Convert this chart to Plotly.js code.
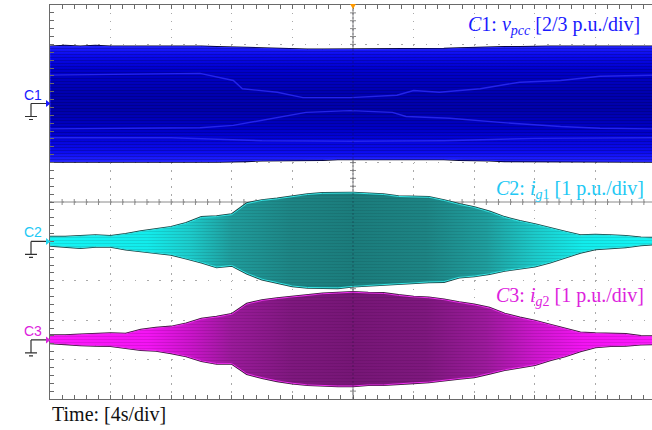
<!DOCTYPE html>
<html>
<head>
<meta charset="utf-8">
<script src="https://cdn.plot.ly/plotly-3.0.1.min.js"></script>
<style>
  html, body { margin: 0; padding: 0; background: #ffffff; overflow: hidden; }
  #scope { width: 660px; height: 430px; }
</style>
</head>
<body>
<div id="scope"></div>
<script>
// Sample instants of the envelope readings, seconds (4 s/div, 10 div)
const timeS = [0,1,2,3,4,5,6,7,8,9,10,11,12,13,14,15,16,17,18,19,20,
               21,22,23,24,25,26,27,28,29,30,31,32,33,34,35,36,37,38,39,40];

// C1: PCC voltage envelope, p.u.
const vpccUpper = [0.96,0.97,0.96,0.97,0.96,0.96,0.97,0.96,0.96,0.96,
                   0.96,0.95,0.95,0.94,0.93,0.92,0.92,0.91,0.91,0.91,
                   0.91,0.91,0.91,0.91,0.91,0.92,0.92,0.93,0.94,0.94,
                   0.95,0.95,0.96,0.96,0.96,0.96,0.96,0.95,0.96,0.96,0.96];
const vpccLower = [-0.98,-0.98,-0.98,-0.97,-0.98,-0.98,-0.98,-0.98,-0.98,-0.98,
                   -0.98,-0.98,-0.98,-0.97,-0.96,-0.96,-0.96,-0.95,-0.95,-0.94,
                   -0.93,-0.93,-0.93,-0.93,-0.93,-0.94,-0.94,-0.95,-0.96,-0.96,
                   -0.97,-0.97,-0.98,-0.98,-0.98,-0.98,-0.98,-0.98,-0.98,-0.98,-0.98];

// Brighter inner traces visible inside the C1 band, p.u.
const vpccTraceATime = [0,5.3,9.9,12.1,12.7,15.0,16.7,19.8,22.9,24.0,25.7,28.4,31.0,33.7,36.3,40];
const vpccTraceA     = [0.48,0.49,0.51,0.39,0.25,0.19,0.10,0.10,0.14,0.22,0.19,0.25,0.36,0.39,0.46,0.48];
const vpccTraceBTime = [0,5.3,9.9,12.1,15.0,16.9,19.8,22.6,23.5,26.4,29.7,33.7,36.3,40];
const vpccTraceB     = [-0.43,-0.42,-0.41,-0.37,-0.24,-0.15,-0.12,-0.15,-0.22,-0.25,-0.32,-0.39,-0.42,-0.43];
const vpccTraceCTime = [0,8,14,20,26,32,40];
const vpccTraceC     = [-0.58,-0.58,-0.63,-0.64,-0.63,-0.59,-0.58];

// C2: grid current i_g1 envelope, p.u.
const ig1Upper = [0.11,0.11,0.13,0.15,0.13,0.18,0.25,0.30,0.36,0.46,
                  0.61,0.63,0.68,0.96,1.04,1.08,1.14,1.19,1.22,1.23,
                  1.23,1.21,1.19,1.14,1.13,1.12,1.04,0.94,0.86,0.75,
                  0.61,0.51,0.43,0.33,0.24,0.15,0.16,0.15,0.13,0.09,0.08];
const ig1Lower = [-0.10,-0.13,-0.16,-0.13,-0.13,-0.20,-0.25,-0.29,-0.33,-0.43,
                  -0.53,-0.65,-0.61,-0.81,-0.96,-1.04,-1.13,-1.17,-1.17,-1.18,
                  -1.14,-1.12,-1.10,-1.08,-1.05,-1.03,-1.02,-0.91,-0.88,-0.82,
                  -0.74,-0.69,-0.63,-0.53,-0.41,-0.28,-0.19,-0.16,-0.14,-0.09,-0.06];

// C3: grid current i_g2 envelope, p.u.
const ig2Upper = [0.11,0.11,0.13,0.14,0.16,0.15,0.25,0.30,0.33,0.41,
                  0.53,0.58,0.65,0.91,1.00,1.05,1.09,1.14,1.17,1.19,
                  1.21,1.19,1.18,1.13,1.09,1.07,1.02,0.95,0.89,0.81,
                  0.66,0.56,0.48,0.38,0.28,0.18,0.16,0.15,0.14,0.09,0.08];
const ig2Lower = [-0.08,-0.10,-0.13,-0.14,-0.15,-0.20,-0.25,-0.27,-0.33,-0.41,
                  -0.53,-0.60,-0.60,-0.86,-0.96,-1.04,-1.10,-1.14,-1.15,-1.17,
                  -1.17,-1.14,-1.14,-1.12,-1.09,-1.07,-1.02,-0.98,-0.94,-0.85,
                  -0.76,-0.70,-0.63,-0.51,-0.41,-0.28,-0.18,-0.15,-0.14,-0.11,-0.10];

// Channel settings: volts/div in p.u. and ground-marker offset in divisions
const channels = [
  { name: 'C1', axis: 'y2', scale: 2/3, offset: 2.5,  labelColor: '#1a1aff', markerColor: '#1a1aff',
    upper: vpccUpper, lower: vpccLower,
    title: '<i>C</i>1: <i>v</i><sub><i>pcc</i></sub> [2/3 p.u./div]' },
  { name: 'C2', axis: 'y3', scale: 1,   offset: -1.0, labelColor: '#22c8f4', markerColor: '#20d8f0',
    upper: ig1Upper, lower: ig1Lower,
    title: '<i>C</i>2: <i>i</i><sub><i>g</i>1</sub> [1 p.u./div]' },
  { name: 'C3', axis: 'y4', scale: 1,   offset: -3.5, labelColor: '#dd22dd', markerColor: '#dd22dd',
    upper: ig2Upper, lower: ig2Lower,
    title: '<i>C</i>3: <i>i</i><sub><i>g</i>2</sub> [1 p.u./div]' }
];

const DIVS = 10, SEC_PER_DIV = 4, SUBDIV = 5;
const TRIGGER_S = 20;

function closedPath(upper, lower) {
  const xs = timeS.concat(timeS.slice().reverse(), [timeS[0]]);
  const ys = upper.concat(lower.slice().reverse(), [upper[0]]);
  return { xs, ys };
}

const gradients = {
  C1: { type: 'vertical', colorscale: [
        [0, '#2222ff'], [0.08, '#0c0cf0'], [0.25, '#0000cc'], [0.45, '#0000aa'],
        [0.6, '#0000b0'], [0.8, '#0000cc'], [0.92, '#0a0aec'], [1, '#2020ff']] },
  C2: { type: 'horizontal', colorscale: [
        [0, '#14f6f6'], [0.16, '#12ecec'], [0.23, '#1ccccc'], [0.3, '#1f9c9c'],
        [0.4, '#1d8484'], [0.5, '#1b7c7c'], [0.62, '#1d8484'], [0.72, '#1f9e9e'],
        [0.8, '#1ccaca'], [0.88, '#12ecec'], [1, '#14f6f6']] },
  C3: { type: 'horizontal', colorscale: [
        [0, '#ff18ff'], [0.16, '#f414f4'], [0.23, '#cc14cc'], [0.3, '#9a1a9a'],
        [0.4, '#7e187e'], [0.5, '#761676'], [0.62, '#7e187e'], [0.72, '#9c1a9c'],
        [0.8, '#cc16cc'], [0.88, '#f214f2'], [1, '#ff18ff']] }
};
const outlineColor = { C1: '#00002a', C2: '#1b4444', C3: '#3a163a' };
const rimColor = { C1: '#2a2aff', C2: '#34e6e6', C3: '#f030f0' };
const stripeColor = { C1: 'rgba(0,0,45,0.5)', C2: 'rgba(10,50,50,0.3)', C3: 'rgba(50,0,50,0.3)' };

const traces = [];
channels.forEach(ch => {
  const p = closedPath(ch.upper, ch.lower);
  // dark outline under the band
  traces.push({ type: 'scatter', mode: 'lines', x: p.xs, y: p.ys, yaxis: ch.axis,
    line: { color: outlineColor[ch.name], width: 2.6 }, hoverinfo: 'skip', showlegend: false });
  // intensity-graded body
  traces.push({ type: 'scatter', mode: 'lines', x: p.xs, y: p.ys, yaxis: ch.axis,
    fill: 'toself', fillgradient: gradients[ch.name],
    line: { color: rimColor[ch.name], width: 1 }, hoverinfo: 'skip', showlegend: false });
  // horizontal raster streaks
  traces.push({ type: 'scatter', mode: 'none', x: p.xs, y: p.ys, yaxis: ch.axis,
    fill: 'toself', fillcolor: 'rgba(0,0,0,0)',
    fillpattern: { shape: '-', size: 3, solidity: 0.3, fgcolor: stripeColor[ch.name],
                   bgcolor: 'rgba(0,0,0,0)', fillmode: 'overlay' },
    hoverinfo: 'skip', showlegend: false });
});
// inner traces of C1
[[vpccTraceATime, vpccTraceA], [vpccTraceBTime, vpccTraceB], [vpccTraceCTime, vpccTraceC]].forEach(([tx, ty]) => {
  traces.push({ type: 'scatter', mode: 'lines', x: tx, y: ty, yaxis: 'y2',
    line: { color: '#3030ff', width: 1.4 }, opacity: 0.75,
    hoverinfo: 'skip', showlegend: false });
});

const tMax = DIVS * SEC_PER_DIV;
const gridColor = '#a9a9a9';
const frameColor = '#6a6a6a';

function channelAxis(ch) {
  return {
    overlaying: 'y', visible: false, fixedrange: true,
    range: [(-DIVS / 2 - ch.offset) * ch.scale, (DIVS / 2 - ch.offset) * ch.scale]
  };
}

const shapes = [];
// graticule centre cross with subdivision ticks
shapes.push({ type: 'line', xref: 'paper', yref: 'y', x0: 0, x1: 1, y0: 0, y1: 0,
  line: { color: '#8a8a8a', width: 1 }, layer: 'between' });
shapes.push({ type: 'line', xref: 'x', yref: 'paper', x0: TRIGGER_S, x1: TRIGGER_S, y0: 0, y1: 1,
  line: { color: '#8a8a8a', width: 1 }, layer: 'between' });
shapes.push({ type: 'line', xref: 'x', yref: 'paper', x0: TRIGGER_S, x1: TRIGGER_S, y0: 0, y1: 1,
  line: { color: 'rgba(20,20,40,0.35)', width: 1, dash: '2px,2px' }, layer: 'above' });
const subX = SEC_PER_DIV / SUBDIV;
for (let k = 1; k < DIVS * SUBDIV; k++) {
  shapes.push({ type: 'line', xref: 'x', yref: 'y', xsizemode: 'scaled',
    ysizemode: 'pixel', yanchor: 0, x0: k * subX, x1: k * subX, y0: -3, y1: 3,
    line: { color: '#8a8a8a', width: 1 }, layer: 'between' });
  shapes.push({ type: 'line', xref: 'x', yref: 'y', xsizemode: 'pixel', xanchor: TRIGGER_S,
    x0: -3, x1: 3, y0: -DIVS / 2 + k / SUBDIV, y1: -DIVS / 2 + k / SUBDIV,
    line: { color: '#8a8a8a', width: 1 }, layer: 'between' });
}
// trigger position marker
shapes.push({ type: 'path', xref: 'x', yref: 'paper', xsizemode: 'pixel', ysizemode: 'pixel',
  xanchor: TRIGGER_S, yanchor: 1, path: 'M-3,1 L3,1 L0,-4 Z',
  fillcolor: '#ff9a00', line: { width: 0 }, layer: 'above' });

const annotations = [];
channels.forEach(ch => {
  // ground reference symbol and arrow at the channel's zero level
  shapes.push({ type: 'path', xref: 'paper', yref: ch.axis, xsizemode: 'pixel', ysizemode: 'pixel',
    xanchor: 0, yanchor: 0,
    path: 'M-19,0 H-3 M-19,0 V-13 M-25,-13 H-13 M-21,-16 H-17',
    line: { color: '#303030', width: 1.2 }, layer: 'above' });
  shapes.push({ type: 'path', xref: 'paper', yref: ch.axis, xsizemode: 'pixel', ysizemode: 'pixel',
    xanchor: 0, yanchor: 0, path: 'M-4,3.5 L0.5,0 L-4,-3.5 Z',
    fillcolor: ch.markerColor, line: { width: 0 }, layer: 'above' });
  annotations.push({ xref: 'paper', yref: ch.axis, x: 0, y: 0, xanchor: 'right', yanchor: 'middle',
    xshift: -6, yshift: 9, showarrow: false, text: ch.name,
    font: { family: 'Liberation Sans, Arial, sans-serif', size: 14, color: ch.labelColor } });
});

const titlePos = { C1: [0.977, 0.947], C2: [0.9835, 0.531], C3: [0.9835, 0.259] };
channels.forEach(ch => {
  annotations.push({ xref: 'paper', yref: 'paper', x: titlePos[ch.name][0], y: titlePos[ch.name][1],
    xanchor: 'right', yanchor: 'middle', showarrow: false, text: ch.title,
    font: { family: 'Liberation Serif, Times New Roman, serif', size: 20, color: ch.labelColor } });
});
annotations.push({ xref: 'paper', yref: 'paper', x: 0, y: 0, xanchor: 'left', yanchor: 'top',
  xshift: 0, yshift: -2, showarrow: false, text: 'Time: [' + SEC_PER_DIV + 's/div]',
  font: { family: 'Liberation Serif, Times New Roman, serif', size: 20, color: '#111111' } });

const layout = {
  width: 660, height: 430,
  margin: { l: 50, r: 4, t: 5, b: 31, pad: 0 },
  paper_bgcolor: '#ffffff', plot_bgcolor: '#ffffff',
  showlegend: false,
  xaxis: {
    range: [0, tMax], dtick: SEC_PER_DIV, tick0: 0, fixedrange: true,
    showgrid: true, gridcolor: gridColor, gridwidth: 1.2, griddash: '1.6px,6.28px',
    zeroline: false, showticklabels: false,
    showline: true, linecolor: frameColor, linewidth: 1.4, mirror: 'allticks',
    ticks: 'inside', ticklen: 4, tickcolor: frameColor,
    minor: { dtick: SEC_PER_DIV / SUBDIV, ticks: 'inside', ticklen: 4, tickcolor: frameColor, showgrid: false }
  },
  yaxis: {
    range: [-DIVS / 2, DIVS / 2], dtick: 1, tick0: 0, fixedrange: true,
    showgrid: true, gridcolor: gridColor, gridwidth: 1.2, griddash: '1.6px,10.52px',
    zeroline: false, showticklabels: false,
    showline: true, linecolor: frameColor, linewidth: 1.4, mirror: 'allticks',
    ticks: 'inside', ticklen: 4, tickcolor: frameColor,
    minor: { dtick: 1 / SUBDIV, ticks: 'inside', ticklen: 4, tickcolor: frameColor, showgrid: false }
  },
  yaxis2: channelAxis(channels[0]),
  yaxis3: channelAxis(channels[1]),
  yaxis4: channelAxis(channels[2]),
  shapes: shapes,
  annotations: annotations
};

Plotly.newPlot('scope', traces, layout, { staticPlot: true, displayModeBar: false });
</script>
</body>
</html>
